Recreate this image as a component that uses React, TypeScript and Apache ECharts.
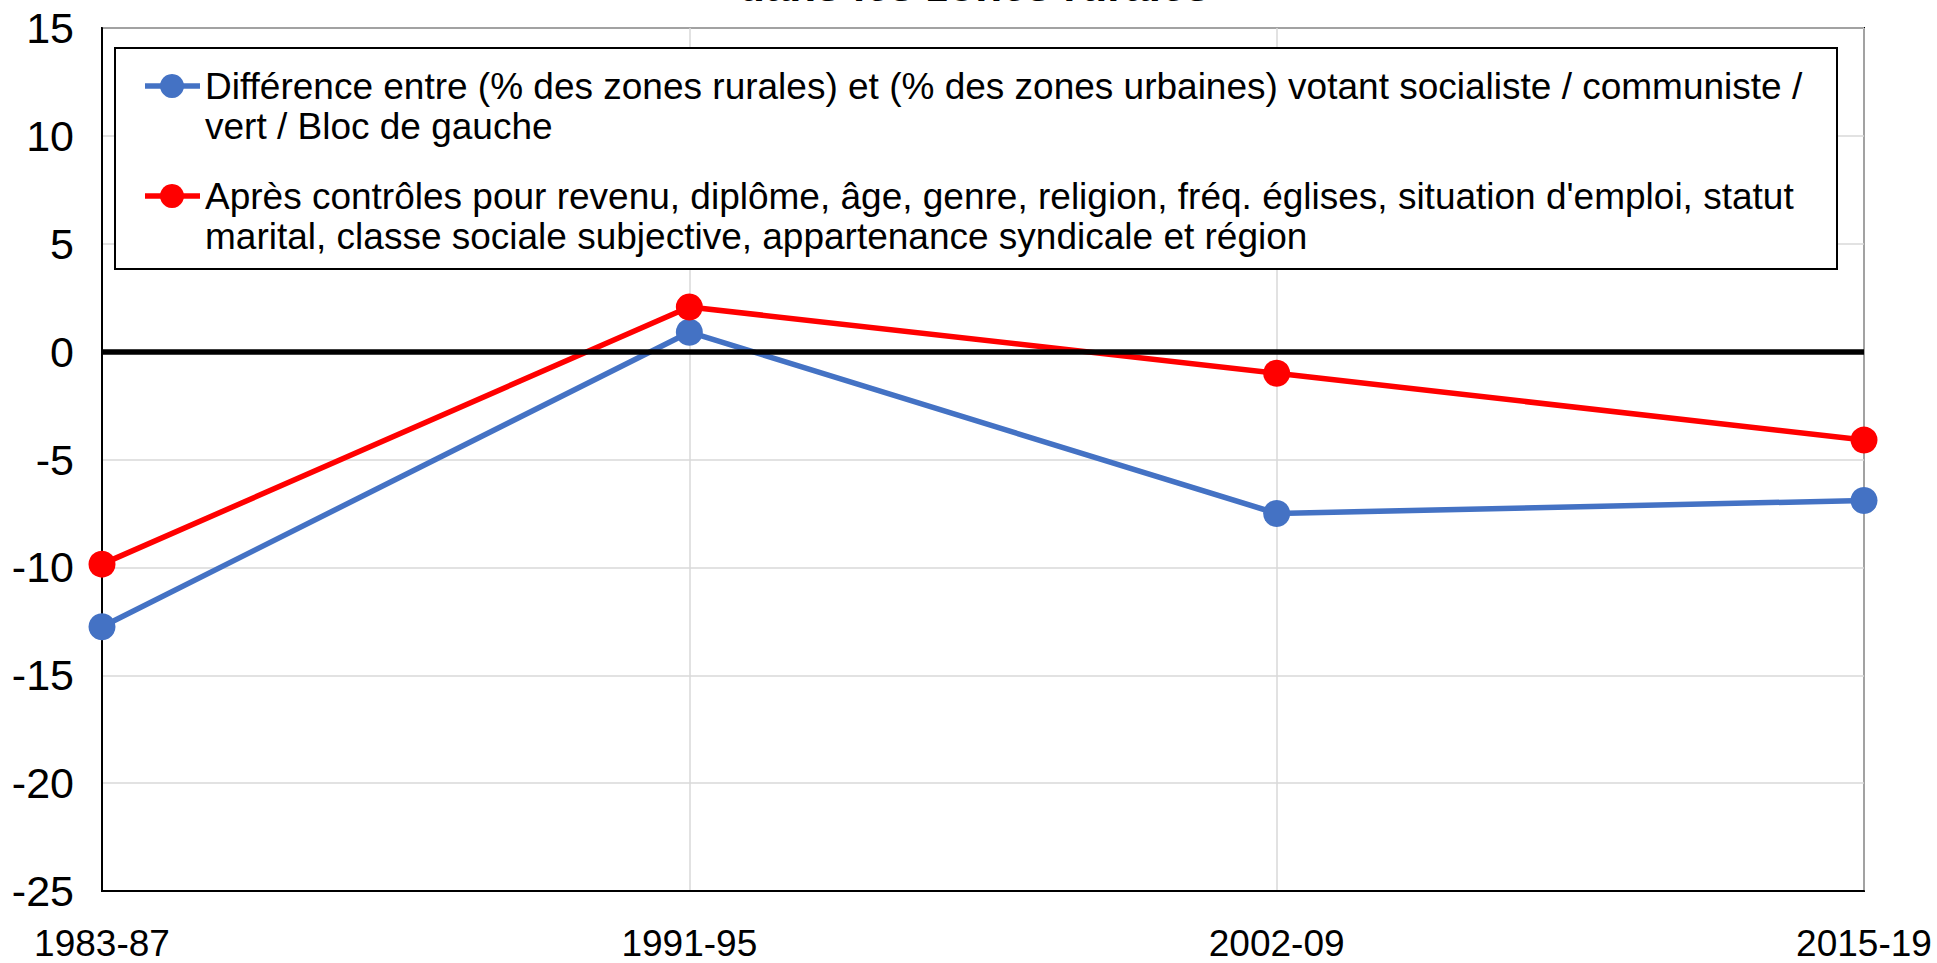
import React, { useEffect, useRef } from "react";
import * as echarts from "echarts";

const categories = ["1983-87", "1991-95", "2002-09", "2015-19"];
const seriesNames = [
  "Différence entre (% des zones rurales) et (% des zones urbaines) votant socialiste / communiste /\nvert / Bloc de gauche",
  "Après contrôles pour revenu, diplôme, âge, genre, religion, fréq. églises, situation d'emploi, statut\nmarital, classe sociale subjective, appartenance syndicale et région",
];
const rawDifference = [-12.75, 0.9, -7.5, -6.9];
const afterControls = [-9.85, 2.07, -1.0, -4.1];
const yTicks = { min: -25, max: 15, interval: 5 };
const titleFragment = "dans les zones rurales";

const BLUE = "#4472C4";
const RED = "#FF0000";
const FONT = "'Liberation Sans', Arial, sans-serif";

export default function App() {
  const ref = useRef<HTMLDivElement>(null);
  useEffect(() => {
    if (!ref.current) return;
    const chart = echarts.init(ref.current, null, { renderer: "svg" });
    const legendRows = [
      { name: seriesNames[0], color: BLUE, y: 86 },
      { name: seriesNames[1], color: RED, y: 196 },
    ];
    const legendGraphics: any[] = [
      {
        type: "rect",
        z: 10,
        shape: { x: 115, y: 48, width: 1722, height: 221 },
        style: { fill: "#fff", stroke: "#000", lineWidth: 2 },
      },
    ];
    legendRows.forEach((r) => {
      legendGraphics.push({
        type: "line",
        z: 11,
        shape: { x1: 145, y1: r.y, x2: 200, y2: r.y },
        style: { stroke: r.color, lineWidth: 5.5 },
      });
      legendGraphics.push({
        type: "circle",
        z: 12,
        shape: { cx: 172, cy: r.y, r: 12 },
        style: { fill: r.color },
      });
      legendGraphics.push({
        type: "text",
        z: 12,
        x: 205,
        y: r.y - 20,
        style: {
          text: r.name,
          font: `37px ${FONT}`,
          lineHeight: 40,
          fill: "#000",
          verticalAlign: "top",
          align: "left",
        },
      });
    });
    legendGraphics.push({
      type: "text",
      z: 12,
      x: 974,
      y: 7,
      style: {
        text: titleFragment,
        font: `bold 44px ${FONT}`,
        fill: "#000",
        align: "center",
        verticalAlign: "bottom",
      },
    });

    chart.setOption({
      animation: false,
      backgroundColor: "#fff",
      grid: {
        left: 102,
        top: 28,
        right: 73,
        bottom: 72,
        show: true,
        borderColor: "#000",
        borderWidth: 2,
        containLabel: false,
        outerBoundsMode: "none",
      },
      xAxis: {
        type: "category",
        data: categories,
        boundaryGap: false,
        axisLine: { show: true, onZero: false, lineStyle: { color: "#000", width: 2 } },
        axisTick: { show: false },
        axisLabel: {
          color: "#000",
          fontSize: 37,
          fontFamily: FONT,
          margin: 34,
          hideOverlap: false,
        },
        splitLine: { show: true, lineStyle: { color: "#d9d9d9", width: 1.5 } },
      },
      yAxis: {
        type: "value",
        min: yTicks.min,
        max: yTicks.max,
        interval: yTicks.interval,
        axisLine: { show: true, lineStyle: { color: "#000", width: 2 } },
        axisTick: { show: false },
        axisLabel: { color: "#000", fontSize: 43, fontFamily: FONT, margin: 28 },
        splitLine: { show: true, lineStyle: { color: "#d9d9d9", width: 1.5 } },
      },
      graphic: legendGraphics,
      series: [
        {
          type: "line",
          name: "zero",
          data: [],
          z: 1,
          silent: true,
          markLine: {
            silent: true,
            symbol: "none",
            label: { show: false },
            lineStyle: { color: "#000", width: 5.5, type: "solid" },
            data: [{ yAxis: 0 }],
          },
        },
        {
          type: "line",
          name: seriesNames[0],
          data: rawDifference,
          z: 3,
          symbol: "circle",
          symbolSize: 27,
          lineStyle: { color: BLUE, width: 5.5 },
          itemStyle: { color: BLUE },
        },
        {
          type: "line",
          name: seriesNames[1],
          data: afterControls,
          z: 4,
          symbol: "circle",
          symbolSize: 27,
          lineStyle: { color: RED, width: 5.5 },
          itemStyle: { color: RED },
        },
      ],
    });
    return () => chart.dispose();
  }, []);
  return <div ref={ref} style={{ width: 1937, height: 963, position: "absolute", left: 0, top: 0 }} />;
}
